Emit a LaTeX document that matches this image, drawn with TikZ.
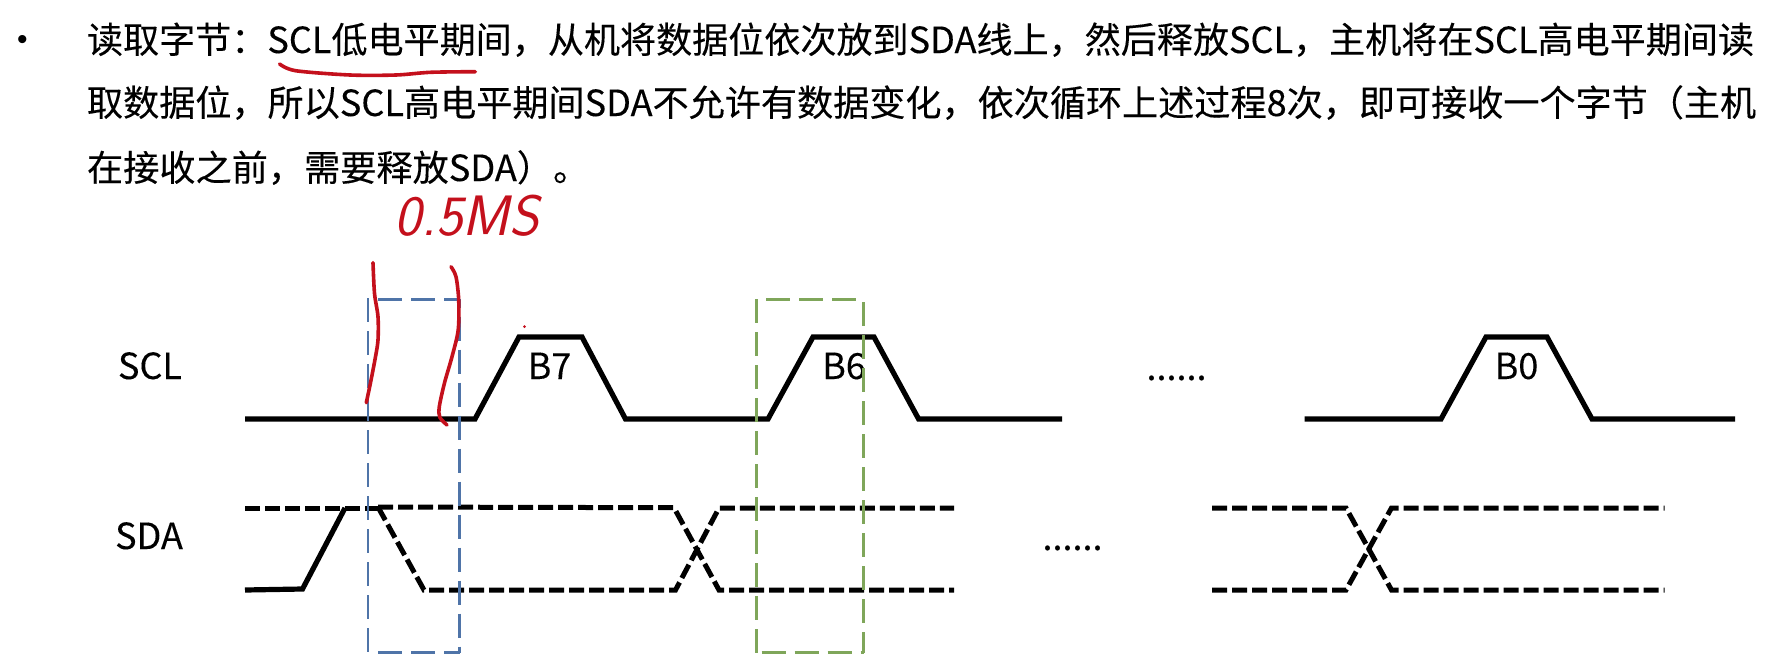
\documentclass[tikz,border=0pt]{standalone}
\usepackage{graphicx}
\usepackage{fontspec}
\setmainfont[FakeBold=0.2]{Noto Sans CJK SC}
\newfontfamily\bulletfont{Liberation Sans}
\definecolor{boxblue}{HTML}{4F74A8}
\definecolor{boxgreen}{HTML}{7FA65A}
\definecolor{inkred}{HTML}{C4101C}
\tikzset{
  bodytext/.style={anchor=base west,inner sep=0pt,outer sep=0pt,text=black,font=\fontsize{36}{36}\selectfont},
  wavelabel/.style={anchor=base,inner sep=0pt,outer sep=0pt,text=black,font=\fontsize{36}{36}\selectfont},
  solidwave/.style={line width=5.2pt,line join=miter,black},
  dashwave/.style={line width=5pt,black,dash pattern=on 15pt off 5pt},
  blueframe/.style={draw=boxblue,line width=2.7pt,dash pattern=on 24pt off 9pt},
  greenframe/.style={draw=boxgreen,line width=2.7pt,dash pattern=on 24pt off 9pt},
  redstroke/.style={inkred,line width=3.6pt,line cap=round,line join=round}
}
\begin{document}
\begin{tikzpicture}[x=1pt,y=-1pt]
\useasboundingbox (0,0) rectangle (1786,670);
\fill[white] (0,0) rectangle (1786,670);
% text
\node[bodytext,font=\fontsize{30}{30}\selectfont\bulletfont] (bullet) at (17,49) {•};
\node[bodytext] (line1) at (87,53) {\scalebox{1.002}[1]{读取字节：SCL低电平期间，从机将数据位依次放到SDA线上，然后释放SCL，主机将在SCL高电平期间读}};
\node[bodytext] (line2) at (87,116) {\scalebox{1.0033}[1]{取数据位，所以SCL高电平期间SDA不允许有数据变化，依次循环上述过程8次，即可接收一个字节（主机}};
\node[bodytext] (line3) at (87,181) {\scalebox{1.005}[1]{在接收之前，需要释放SDA）。}};
% labels
\node[wavelabel] (sclLabel) at (150,379) {SCL};
\node[wavelabel] (sdaLabel) at (149,549) {SDA};
\node[wavelabel] (b7) at (549.5,379) {B7};
\node[wavelabel] (b6) at (844,379) {B6};
\node[wavelabel] (b0) at (1516.5,379) {B0};
\node[wavelabel] (dotsA) at (1176.5,380) {......};
\node[wavelabel] (dotsB) at (1072.5,550) {......};
% SCL
\draw[solidwave] (245,419) -- (475,419) -- (519,337) -- (582,337) -- (625.5,419) -- (768,419) -- (813,337) -- (874,337) -- (918.6,419) -- (1062,419);
\draw[solidwave] (1304.5,419) -- (1441,419) -- (1486,337) -- (1547,337) -- (1592,419) -- (1735,419);
% SDA
\draw[solidwave] (245,590) -- (302.5,589) -- (345,508);
\draw[dashwave] (245,508) -- (378,508);
\draw[dashwave] (378,507) -- (674,507.7) -- (719,590) -- (954,590);
\draw[dashwave] (378,507) -- (424,590) -- (675.5,590) -- (719,508) -- (954,508);
\draw[dashwave] (1212,508) -- (1346,508) -- (1391.5,590) -- (1664.5,590);
\draw[dashwave] (1212,590) -- (1346,590) -- (1391.5,508) -- (1664.5,508);
% frames
\draw[blueframe] (378,299.3) -- (459.7,299.3);
\draw[blueframe] (368,298) -- (368,652.7);
\draw[blueframe,dash phase=15.6pt] (459.7,299.3) -- (459.7,652.7);
\draw[blueframe] (378,652.7) -- (459.7,652.7);
\draw[greenframe] (766,299.3) -- (863.8,299.3);
\draw[greenframe] (756.6,299.3) -- (756.6,652.7);
\draw[greenframe,dash phase=30.3pt] (863.8,299.3) -- (863.8,652.7);
\draw[greenframe] (761.7,652.7) -- (863.8,652.7);
% red ink
\draw[redstroke] plot[smooth] coordinates {(279.6,64) (295.6,70.7) (350,75) (396,75) (430.5,72.3) (475.3,71.7)};
\draw[redstroke] plot[smooth] coordinates {(373,262.7) (374.5,293.3) (378,316.7) (378,340) (375.5,356.7) (370.4,383.3) (366.3,402.7)};
\draw[redstroke] plot[smooth] coordinates {(451,266.7) (456,276.7) (458.7,300) (458.2,330) (452,356.7) (444.4,383.3) (439.3,406.7) (439.8,417.3) (447,425)};
\fill[inkred] (524.5,326.7) circle (1.5);
\node[anchor=base,inner sep=0pt,text=inkred,font=\fontsize{30}{30}\selectfont\sffamily\itshape] (note) at (467,235) {\scalebox{1.9}[1.9]{0.5MS}};
\end{tikzpicture}
\end{document}
